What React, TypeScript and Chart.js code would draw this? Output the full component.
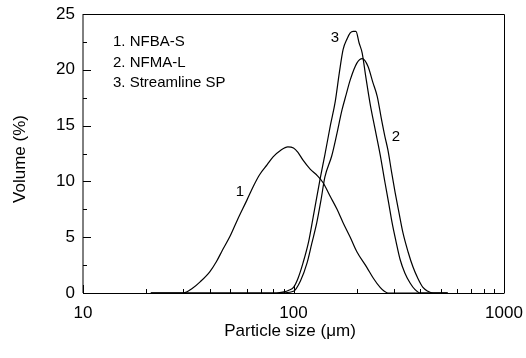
import React, { useEffect, useRef } from "react";
import { Chart, registerables } from "chart.js";

Chart.register(...registerables);

// ---- Data ----
const sizes1 = [21, 25, 30, 33, 36, 40, 43, 46, 50, 54, 60, 65, 69, 75, 80, 87, 94, 100, 105, 111, 120, 130, 138, 150, 161, 172, 186, 200, 223, 240, 258, 270, 281, 320, 400, 540];
const volume1 = [0, 0, 0, 0.4, 1.0, 1.9, 2.8, 3.85, 5.1, 6.5, 8.3, 9.7, 10.6, 11.5, 12.2, 12.8, 13.1, 13.0, 12.6, 11.9, 11.1, 10.5, 9.9, 8.6, 7.5, 6.3, 5.0, 3.7, 2.3, 1.3, 0.5, 0.15, 0, 0, 0, 0];

const sizes2 = [21, 50, 80, 90, 100, 108, 116, 122, 129, 135, 141, 152, 160, 170, 178, 186, 200, 212, 226, 238, 250, 261, 272, 281, 292, 304, 317, 331, 350, 370, 390, 412, 435, 460, 540];
const volume2 = [0, 0, 0, 0.02, 0.15, 1.1, 2.7, 4.4, 6.3, 8.3, 10.4, 12.3, 14.1, 16.4, 17.8, 19.1, 20.6, 21.0, 20.3, 18.9, 17.6, 15.7, 14.0, 12.8, 10.9, 9.0, 7.2, 5.4, 3.7, 2.3, 1.3, 0.5, 0.15, 0, 0];

const sizes3 = [21, 30, 50, 70, 83, 90, 95, 100, 105, 111, 118, 124, 134, 141, 150, 158, 165, 172, 180, 186, 192, 198, 205, 212, 220, 231, 244, 258, 272, 283, 294, 307, 321, 338, 358, 378, 399, 450, 540];
const volume3 = [0, 0, 0, 0, 0, 0.1, 0.25, 0.5, 1.3, 2.7, 4.6, 6.8, 10.3, 12.4, 15.1, 17.2, 19.7, 21.8, 22.8, 23.3, 23.45, 23.45, 22.4, 21.5, 19.5, 17.0, 14.7, 12.4, 9.9, 8.1, 6.3, 4.6, 3.0, 1.8, 0.9, 0.3, 0, 0, 0];

const seriesNames = ["1. NFBA-S", "2. NFMA-L", "3. Streamline SP"];
const curveTags = ["1", "2", "3"];
const tagSizes = [55.7, 307, 157.5];
const tagVolumes = [9.1, 14.0, 22.9];

const xTickValues = [10, 100, 1000];
const yTickValues = [0, 5, 10, 15, 20, 25];
const xTitle = "Particle size (\u03bcm)";
const yTitle = "Volume (%)";

const FONT = "'Liberation Sans', Arial, Helvetica, sans-serif";

function toPoints(xs: number[], ys: number[]) {
  return xs.map((x, i) => ({ x, y: ys[i] }));
}

const framePlugin = {
  id: "frame",
  afterDatasetsDraw(chart: any) {
    const { ctx, chartArea, scales } = chart;
    const { left, right, top, bottom } = chartArea;
    const xs = scales.x;
    const ys = scales.y;
    ctx.save();
    ctx.lineWidth = 1;
    ctx.strokeStyle = "#000";
    // left axis
    ctx.beginPath();
    ctx.moveTo(left, top);
    ctx.lineTo(left, bottom);
    ctx.stroke();
    // top + right border
    ctx.beginPath();
    ctx.moveTo(left, top + 0.5);
    ctx.lineTo(right + 0.5, top + 0.5);
    ctx.lineTo(right + 0.5, bottom);
    ctx.stroke();
    // bottom axis
    ctx.beginPath();
    ctx.moveTo(left, bottom + 0.5);
    ctx.lineTo(right + 0.5, bottom + 0.5);
    ctx.stroke();
    // y ticks (inward)
    for (let k = 0; k <= 10; k++) {
      const v = k * 2.5;
      const py = Math.round(ys.getPixelForValue(v)) + 0.5;
      const len = k % 2 === 0 ? 8 : 4;
      ctx.beginPath();
      ctx.moveTo(left, py);
      ctx.lineTo(left + len, py);
      ctx.stroke();
    }
    // x ticks (inward)
    const decades = [10, 100];
    for (const d of decades) {
      for (let m = 1; m <= 9; m++) {
        const px = Math.round(xs.getPixelForValue(m * d)) + 0.5;
        const len = m === 1 ? 8 : 4;
        ctx.beginPath();
        ctx.moveTo(px, bottom);
        ctx.lineTo(px, bottom - len);
        ctx.stroke();
      }
    }
    {
      const px = Math.round(xs.getPixelForValue(1000)) + 0.5;
      ctx.beginPath();
      ctx.moveTo(px, bottom);
      ctx.lineTo(px, bottom - 8);
      ctx.stroke();
    }

    ctx.fillStyle = "#000";
    // legend text
    ctx.font = `15px ${FONT}`;
    ctx.textAlign = "left";
    ctx.textBaseline = "middle";
    seriesNames.forEach((t, i) => {
      ctx.fillText(t, 113, 42 + i * 20.5);
    });
    // curve tags
    ctx.textAlign = "center";
    curveTags.forEach((t, i) => {
      ctx.fillText(t, xs.getPixelForValue(tagSizes[i]), ys.getPixelForValue(tagVolumes[i]));
    });
    // axis titles
    ctx.font = `17px ${FONT}`;
    ctx.fillText(xTitle, 290, 331);
    ctx.translate(20, 159);
    ctx.rotate(-Math.PI / 2);
    ctx.fillText(yTitle, 0, 0);
    ctx.restore();
  },
};

export default function App() {
  const ref = useRef<HTMLCanvasElement | null>(null);
  useEffect(() => {
    if (!ref.current) return;
    const mk = (xs: number[], ys: number[], label: string) => ({
      label,
      data: toPoints(xs, ys),
      borderColor: "#000",
      backgroundColor: "#000",
      borderWidth: 1.2,
      pointRadius: 0,
      fill: false,
      cubicInterpolationMode: "monotone" as const,
      clip: false as any,
    });
    const chart = new Chart(ref.current, {
      type: "line",
      data: {
        datasets: [
          mk(sizes1, volume1, seriesNames[0]),
          mk(sizes2, volume2, seriesNames[1]),
          mk(sizes3, volume3, seriesNames[2]),
        ],
      },
      options: {
        animation: false,
        responsive: true,
        maintainAspectRatio: false,
        layout: { padding: { top: 14, right: 22, left: 0, bottom: 0 } },
        plugins: { legend: { display: false }, tooltip: { enabled: false } },
        scales: {
          x: {
            type: "logarithmic",
            min: 10,
            max: 1000,
            grid: { display: false, drawTicks: false },
            border: { display: false },
            afterBuildTicks: (s: any) => {
              s.ticks = xTickValues.map((v) => ({ value: v }));
            },
            afterFit: (s: any) => {
              s.height = 65;
              s.paddingLeft = 0;
              s.paddingRight = 0;
              s.paddingTop = 0;
              s.paddingBottom = 0;
            },
            ticks: {
              color: "#000",
              font: { family: FONT, size: 17 },
              padding: 10,
              maxRotation: 0,
              autoSkip: false,
              callback: (v: any) => String(v),
            },
          },
          y: {
            type: "linear",
            min: 0,
            max: 25,
            grid: { display: false, drawTicks: false },
            border: { display: false },
            afterBuildTicks: (s: any) => {
              s.ticks = yTickValues.map((v) => ({ value: v }));
            },
            afterFit: (s: any) => {
              s.width = 83;
              s.paddingLeft = 0;
              s.paddingRight = 0;
              s.paddingTop = 0;
              s.paddingBottom = 0;
            },
            ticks: {
              color: "#000",
              font: { family: FONT, size: 17 },
              padding: 8,
              callback: (v: any) => String(v),
            },
          },
        },
      },
      plugins: [framePlugin],
    });
    return () => chart.destroy();
  }, []);
  return (
    <div style={{ position: "fixed", left: 0, top: 0, width: 526, height: 358, background: "#fff" }}>
      <canvas ref={ref} />
    </div>
  );
}
